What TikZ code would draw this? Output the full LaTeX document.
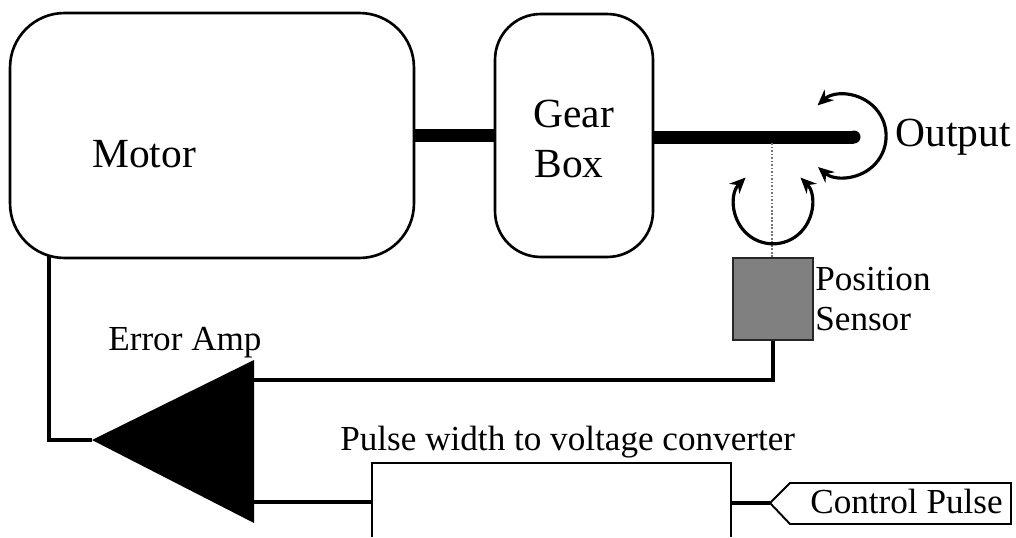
\documentclass[tikz,border=0pt]{standalone}
\usepackage{fontspec}
\setmainfont{Liberation Serif}
\usetikzlibrary{arrows.meta}
\usepackage{xcolor}
\tikzset{
 blockbox/.style={draw=black, line width=1.5pt, rounded corners=#1, inner sep=0},
 shaft/.style={black, line width=7.4pt},
 wire/.style={black, line width=2pt},
 turn/.style={black, line width=1.8pt, {Stealth[length=9pt,width=8pt]}-{Stealth[length=9pt,width=8pt]}},
 biglabel/.style={anchor=base west, inner sep=0, font=\fontsize{23.6}{24}\selectfont},
 smalllabel/.style={anchor=base west, inner sep=0, font=\fontsize{20}{22}\selectfont}
}

\begin{document}
\begin{tikzpicture}[x=.02cm, y=-.02cm]
\useasboundingbox (0,0) rectangle (1016,537);
\node[blockbox=31pt, minimum width=8.08cm, minimum height=4.9cm] (motor) at (212,135.5) {};
\node[blockbox=26pt, minimum width=3.16cm, minimum height=4.86cm] (gearbox) at (574,135.5) {};
\node[draw=black!85, line width=1.5pt, fill=black!50, inner sep=0, minimum width=1.6cm, minimum height=1.64cm] (sensor) at (773,299) {};
\node[biglabel] (motorlabel) at (92,167) {Motor};
\node[biglabel] (gearlabel) at (533,127) {Gear};
\node[biglabel] (boxlabel) at (534,177) {Box};
\node[biglabel] (outputlabel) at (895,146) {Output};
\node[smalllabel] (positionlabel) at (815,290) {Position};
\node[smalllabel] (sensorlabel) at (815,330) {Sensor};
\node[smalllabel] (amplabel) at (108,350) {Error Amp};
\node[smalllabel] (converterlabel) at (340,450) {Pulse width to voltage converter};
\node[smalllabel] (pulselabel) at (810,513) {Control Pulse};
% shafts
\coordinate (shaftend) at (854,137);
\coordinate (shafttap) at (772,143);
\draw[shaft] (motor) -- (gearbox);
\draw[shaft] (gearbox.east |- shaftend) -- (shaftend);
\fill[black] (shaftend) circle (3.7pt);
\draw[black!55, line width=1pt, densely dotted] (shafttap) -- (shafttap |- sensor.north);
% turning arrows
\draw[turn] (845,136) ++(132:23.4pt) arc (132:-131:23.4pt);
\draw[turn] (773,205) ++(135:22.1pt) arc (135:405:22.1pt);
% error amp
\coordinate (amptip) at (92,440);
\coordinate (amptop) at (254,360);
\coordinate (ampbot) at (254,523);
\fill[black] (amptip) -- (amptop) -- (ampbot) -- cycle;
\coordinate (motorwire) at (49,256);
\draw[wire] (motorwire) -- (motorwire |- amptip) -- (amptip);
\coordinate (ampin) at (254,380);
\draw[wire] (sensor.south) |- (ampin);
% converter, open at the bottom
\coordinate (convleft) at (372,537);
\coordinate (convright) at (731,537);
\coordinate (convin) at (372,502);
\coordinate (convout) at (731,503);
\coordinate (ampinb) at (254,502);
\draw[black, line width=1.3pt] (convleft) -- (372,463) -- (731,463) -- (convright);
\draw[wire, line width=2.6pt] (ampinb) -- (convin);
% control pulse
\coordinate (pulsetip) at (770,503);
\draw[wire, line width=2.6pt] (convout) -- (pulsetip);
\draw[black, line width=1.1pt] (pulsetip) -- (790,483) -- (1011,483) -- (1011,524) -- (790,524) -- cycle;
\end{tikzpicture}
\end{document}
